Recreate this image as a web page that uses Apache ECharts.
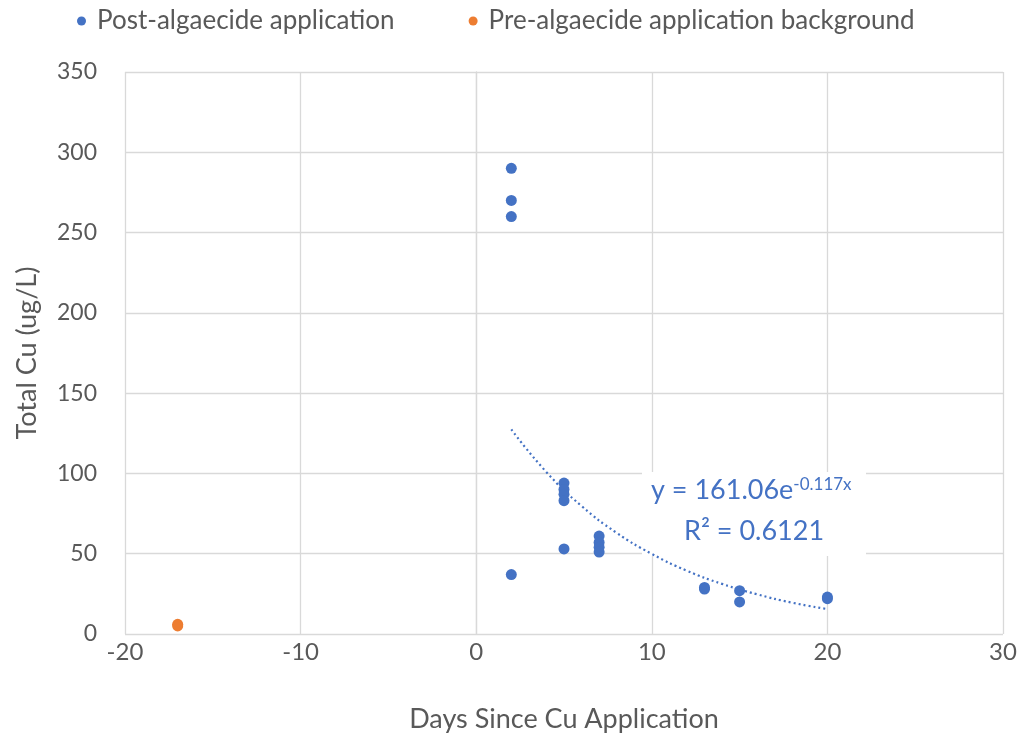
<!DOCTYPE html>
<html><head><meta charset="utf-8">
<script src="https://cdn.jsdelivr.net/npm/echarts@6/dist/echarts.min.js"></script>
<style>html,body{margin:0;padding:0;background:#fff}#c{width:1026px;height:738px}</style>
</head><body><div id="c"></div>
<script>
const postDays  = [2, 2, 2, 2, 5, 5, 5, 5, 5, 7, 7, 7, 7, 13, 13, 15, 15, 20, 20];
const postCu    = [290, 270, 260, 37, 94, 90, 87, 83, 53, 61, 57, 54, 51, 29, 28, 27, 20, 23, 22];
const preDays   = [-17, -17];
const preCu     = [6, 5];
const trendDays = [2, 4, 6, 8, 10, 12, 14, 16, 18, 20];
const trendCu   = [127.4, 100.8, 79.7, 63.0, 49.9, 39.4, 31.2, 24.7, 19.5, 15.5];
const seriesNames = ['Post-algaecide application', 'Pre-algaecide application background'];
const xTitle = 'Days Since Cu Application';
const yTitle = 'Total Cu (ug/L)';
const eqText = 'y = 161.06e';
const eqExp = '-0.117x';
const r2Text = 'R² = 0.6121';

const FONT = 'Lato';
const TXT = '#595959';
const chart = echarts.init(document.getElementById('c'));
chart.setOption({
  animation: false,
  textStyle: {fontFamily: FONT},
  legend: {
    top: 3, left: 72, itemGap: 74, itemWidth: 9, itemHeight: 9,
    data: [{name: seriesNames[0], icon: 'circle'}, {name: seriesNames[1], icon: 'circle'}],
    textStyle: {fontSize: 26, color: TXT, fontFamily: FONT, padding: [0, 0, 0, 6]}
  },
  grid: {left: 125, right: 23, top: 72, bottom: 103},
  xAxis: {
    type: 'value', min: -20, max: 30, interval: 10,
    name: xTitle, nameLocation: 'middle', nameGap: 72,
    nameTextStyle: {fontSize: 27, color: TXT},
    axisLine: {show: false}, axisTick: {show: false},
    axisLabel: {fontSize: 24, color: TXT, margin: 6},
    splitLine: {show: true, lineStyle: {color: '#d9d9d9', width: 1.3}}
  },
  yAxis: {
    type: 'value', min: 0, max: 350, interval: 50,
    name: yTitle, nameLocation: 'middle', nameGap: 84, nameRotate: 90,
    nameTextStyle: {fontSize: 27, color: TXT},
    axisLine: {show: true, lineStyle: {color: '#d9d9d9', width: 1.3}}, axisTick: {show: false},
    axisLabel: {fontSize: 23, color: TXT, margin: 28},
    splitLine: {show: true, lineStyle: {color: '#d9d9d9', width: 1.3}}
  },
  series: [
    {name: seriesNames[0], type: 'scatter', symbolSize: 11, itemStyle: {color: '#4472C4', opacity: 1},
     data: postDays.map((d, i) => [d, postCu[i]]), z: 3},
    {name: seriesNames[1], type: 'scatter', symbolSize: 11, itemStyle: {color: '#ED7D31', opacity: 1},
     data: preDays.map((d, i) => [d, preCu[i]]), z: 3},
    {name: 'trend', type: 'line', smooth: true, showSymbol: false, silent: true,
     lineStyle: {color: '#4472C4', width: 2.2, type: [2, 3]},
     data: trendDays.map((d, i) => [d, trendCu[i]]), z: 2}
  ],
  graphic: [
    {type: 'rect', left: 642, top: 472, shape: {width: 224, height: 84}, style: {fill: '#fff'}, z: 1},
    {type: 'text', left: 651, top: 476, z: 5,
     style: {rich: {a: {fontSize: 27, fill: '#4472C4', fontFamily: FONT}, b: {fontSize: 17, fill: '#4472C4', fontFamily: FONT, verticalAlign: 'top', padding: [0,0,12,0]}},
       text: '{a|' + eqText + '}{b|' + eqExp + '}'}},
    {type: 'text', left: 684, top: 518, z: 5,
     style: {text: r2Text, fontSize: 27, fill: '#4472C4', fontFamily: FONT}}
  ]
});
</script></body></html>
